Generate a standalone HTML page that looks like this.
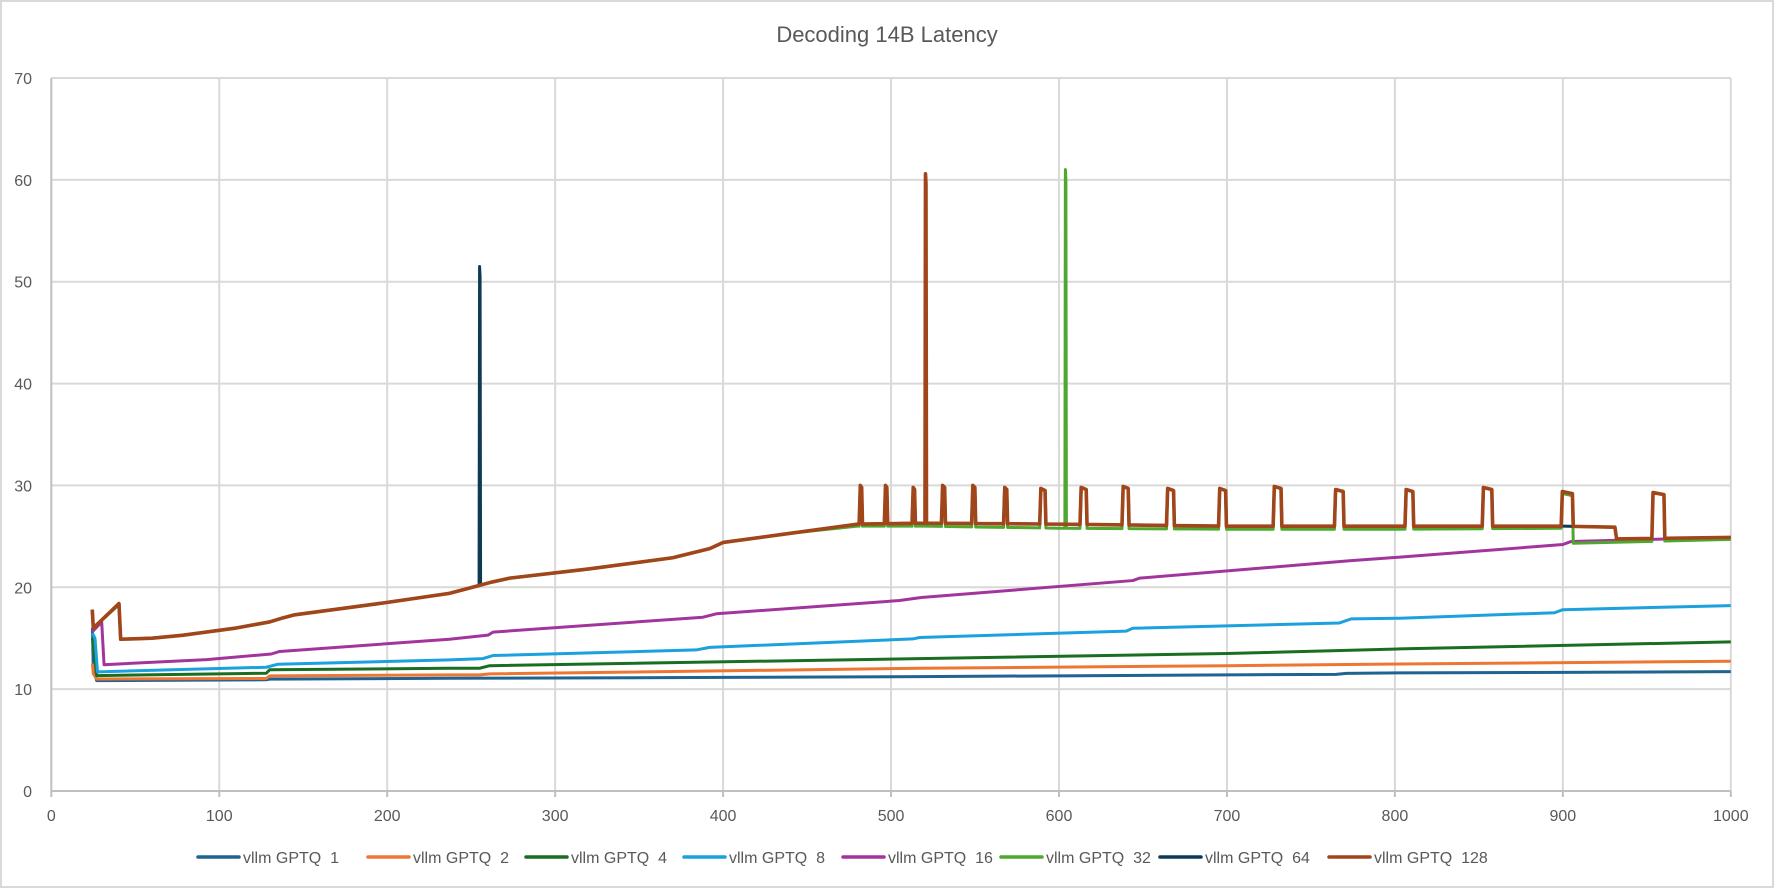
<!DOCTYPE html>
<html><head><meta charset="utf-8"><style>
html,body{margin:0;padding:0;background:#fff;}
svg{display:block;font-family:"Liberation Sans",sans-serif;}
</style></head><body>
<svg id="chart" width="1774" height="888" viewBox="0 0 1774 888" xmlns="http://www.w3.org/2000/svg">
<rect x="1" y="1" width="1772" height="886" fill="#fff" stroke="#d9d9d9" stroke-width="2"/>
<text x="887" y="42" text-anchor="middle" font-size="22" fill="#595959">Decoding 14B Latency</text>
<g id="grid"></g><g id="axes"></g><g id="series"></g><g id="legend"></g>
</svg>
<script>
const xTicks=[0,100,200,300,400,500,600,700,800,900,1000];
const yTicks=[0,10,20,30,40,50,60,70];
const seriesNames=["vllm GPTQ  1","vllm GPTQ  2","vllm GPTQ  4","vllm GPTQ  8","vllm GPTQ  16","vllm GPTQ  32","vllm GPTQ  64","vllm GPTQ  128"];
const seriesColors=["#1f6391","#ee7633","#1a6e21","#1ba1dd","#a2359c","#4ea72e","#0e3a55","#a0461a"];
// series values (x = step, y = latency)
const s1X=[24.5,25,27,128,130,237,400,517,700,765,771,803,900,1000];
const s1Y=[16.0,12.0,10.84,10.92,10.98,11.07,11.15,11.23,11.4,11.45,11.55,11.6,11.65,11.72];
const s2X=[24.5,25,27,128,130,237,255,261,517,700,803,1000];
const s2Y=[12.5,11.5,11.0,11.05,11.3,11.4,11.4,11.5,12.05,12.3,12.47,12.74];
const s4X=[24.5,26,27,128,130,237,255,261,517,700,803,1000];
const s4Y=[15.0,13.0,11.33,11.56,11.9,12.05,12.05,12.3,13.0,13.5,13.95,14.64];
const s8X=[24.5,26,27.5,128,135,237,257,263,384,392,513,517,640,644,767,774,803,895,900,1000];
const s8Y=[15.5,15.0,11.7,12.15,12.45,12.87,13.0,13.3,13.85,14.1,14.93,15.07,15.7,15.98,16.5,16.9,16.96,17.5,17.8,18.2];
const s16X=[24.5,30,31.4,92.5,131,136,237,260,263,388,396,505,518,644,648,773,803,900,905,1000];
const s16Y=[15.65,16.6,12.4,12.9,13.45,13.7,14.9,15.3,15.6,17.06,17.4,18.7,19.0,20.66,20.9,22.6,22.96,24.2,24.5,24.9];
const s128X=[24.4,25,40.3,41.3,60,78.6,110,130,138,145,195,237,253,262,273,320,370,392,400,440,480,520,600,700,800,900,931,932,1000];
const s128Y=[17.8,16.0,18.4,14.9,15.0,15.3,16.0,16.6,17.0,17.3,18.4,19.4,20.1,20.5,20.9,21.8,22.9,23.8,24.4,25.3,26.2,26.3,26.2,26.0,26.0,26.0,25.9,24.75,24.9];
const s32X=[24.4,25,40.3,41.3,60,78.6,110,130,138,145,195,237,253,262,273,320,370,392,400,440,480,520,600,700,800,899,900,1000];
const s32Y=[17.6,16.0,18.3,14.9,15.0,15.3,16.0,16.6,17.0,17.3,18.4,19.4,20.1,20.5,20.9,21.8,22.9,23.8,24.4,25.3,26.0,26.0,25.8,25.7,25.7,25.8,24.3,24.7];
const s64X=s128X.slice(0,28);
const s64Y=s128Y.slice(0,28);
// periodic spikes: start step, plateau width, top value
const spikeX=[481,496,512.5,530,548,567,588.5,612.5,637.5,664,695,727.5,764,806,852,899,953];
const spikeW=[0.8,0.8,0.8,1.2,1.2,1.2,2.5,3,3,3.5,3.5,4,4.5,4,5,6,6.5];
const spikeT=[30.0,30.0,29.8,30.0,30.0,29.8,29.7,29.8,29.9,29.7,29.7,29.9,29.6,29.6,29.8,29.4,29.3];
const bigSpike128=[520.5,60.6];
const bigSpike32=[603.8,61.0];
const bigSpike64=[255,51.5];

const X0=51.3,X1=1730.8,Y0=791,Y1=78;
const sx=v=>X0+(v/1000)*(X1-X0);
const sy=v=>Y0-(v/70)*(Y0-Y1);
const NS="http://www.w3.org/2000/svg";
function mk(tag,attrs,parent){const e=document.createElementNS(NS,tag);for(const k in attrs)e.setAttribute(k,attrs[k]);parent.appendChild(e);return e;}
const grid=document.getElementById('grid'),axes=document.getElementById('axes'),ser=document.getElementById('series'),leg=document.getElementById('legend');
yTicks.forEach(t=>{
  if(t>0){const l=mk('line',{x1:X0,x2:X1,y1:sy(t),y2:sy(t),stroke:'#d9d9d9','stroke-width':2},grid);
  
  }
  const tx=mk('text',{x:32,y:sy(t)+6,'text-anchor':'end','font-size':16,fill:'#595959'},axes);
  tx.textContent=t;
  
  
});
xTicks.forEach(t=>{
  if(t>0){const l=mk('line',{x1:sx(t),x2:sx(t),y1:Y1,y2:Y0,stroke:'#d9d9d9','stroke-width':2},grid);
  
  }
  const tk=mk('line',{x1:sx(t),x2:sx(t),y1:Y0,y2:Y0+6,stroke:'#bfbfbf','stroke-width':2},axes);
  
  
  const tx=mk('text',{x:sx(t),y:Y0+30,'text-anchor':'middle','font-size':16,fill:'#595959'},axes);
  tx.textContent=t;
  
  
});
const ya=mk('line',{x1:X0,x2:X0,y1:Y1,y2:Y0,stroke:'#bfbfbf','stroke-width':2},axes);


const xa=mk('line',{x1:X0,x2:X1,y1:Y0,y2:Y0,stroke:'#bfbfbf','stroke-width':2},axes);



function interp(xs,ys,x){if(x<=xs[0])return ys[0];for(let i=1;i<xs.length;i++){if(x<=xs[i]){const f=(x-xs[i-1])/(xs[i]-xs[i-1]);return ys[i-1]+f*(ys[i]-ys[i-1]);}}return ys[ys.length-1];}
function build(xs,ys,spikes,bigs){
  let pts=xs.map((x,i)=>[x,ys[i]]);
  const add=[];
  spikes.forEach(([s,w,t])=>{
    add.push([s,interp(xs,ys,s)],[s+0.7,t],[s+0.7+w,t-0.2],[s+1.2+w,interp(xs,ys,s+1.2+w)]);
  });
  bigs.forEach(([s,t])=>{add.push([s-0.3,interp(xs,ys,s-0.3)],[s,t],[s+0.3,t-1],[s+0.6,interp(xs,ys,s+0.6)]);});
  const ranges=add.length?[]:null;
  // remove base points lying inside spike spans
  const spans=[];for(let i=0;i<add.length;i+=4)spans.push([add[i][0],add[i+3][0]]);
  pts=pts.filter(p=>!spans.some(([a,b])=>p[0]>a&&p[0]<b));
  pts=pts.concat(add).sort((a,b)=>a[0]-b[0]);
  return pts;
}
const spikes=spikeX.map((s,i)=>[s,spikeW[i],spikeT[i]]);
const spikes32=spikes.filter(s=>s[0]<899||s[0]>=953).concat([[899,6,29.2]]);
const defs=[
 [s1X,s1Y,[],[]],[s2X,s2Y,[],[]],[s4X,s4Y,[],[]],[s8X,s8Y,[],[]],[s16X,s16Y,[],[]],
 [s32X,s32Y,spikes32,[bigSpike32]],[s64X,s64Y,spikes.filter(s=>s[0]<890),[bigSpike64]],[s128X,s128Y,spikes,[bigSpike128]]
];
defs.forEach((d,i)=>{
  const pts=build(d[0],d[1],d[2],d[3]);
  const p=mk('polyline',{points:pts.map(q=>sx(q[0]).toFixed(2)+','+sy(q[1]).toFixed(2)).join(' '),fill:'none',stroke:seriesColors[i],'stroke-width':i==7?3.6:3,'stroke-linejoin':'round'},ser);
  
  
});
const legX=[198,368,526,684,843,1001,1160,1329];
seriesNames.forEach((n,i)=>{
  const g=mk('g',{},leg);
  
  
  mk('line',{x1:legX[i],x2:legX[i]+41,y1:857,y2:857,stroke:seriesColors[i],'stroke-width':3.5,'stroke-linecap':'round'},g);
  const t=mk('text',{x:legX[i]+45,y:863,'font-size':16,fill:'#595959','xml:space':'preserve'},g);
  t.style.whiteSpace='pre';
  t.textContent=n;
});
</script>
</body></html>
